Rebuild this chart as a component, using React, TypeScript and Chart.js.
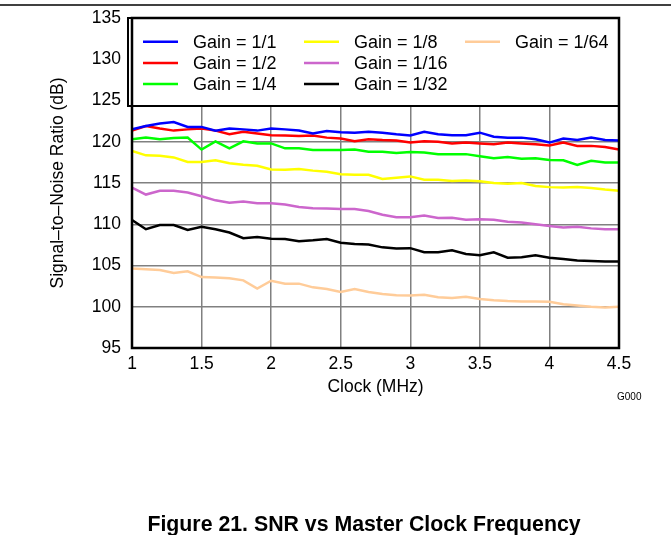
import React, { useEffect, useRef } from "react";
import { Chart, registerables } from "chart.js";

Chart.register(...registerables);

const clockMHz = [
  1.0, 1.1, 1.2, 1.3, 1.4, 1.5, 1.6, 1.7, 1.8, 1.9, 2.0, 2.1, 2.2,
  2.3, 2.4, 2.5, 2.6, 2.7, 2.8, 2.9, 3.0, 3.1, 3.2, 3.3, 3.4,
  3.5, 3.6, 3.7, 3.8, 3.9, 4.0, 4.1, 4.2, 4.3, 4.4, 4.5,
];

const seriesLabels = [
  "Gain = 1/1",
  "Gain = 1/2",
  "Gain = 1/4",
  "Gain = 1/8",
  "Gain = 1/16",
  "Gain = 1/32",
  "Gain = 1/64",
];

const seriesColors = ["#0000ff", "#ff0000", "#00ff00", "#ffff00", "#cc66cc", "#000000", "#ffcc99"];

const gain1 = [
  121.5, 121.9, 122.2, 122.4, 121.8, 121.8, 121.35, 121.6, 121.5, 121.35, 121.6, 121.5, 121.35,
  121.0, 121.3, 121.15, 121.1, 121.2, 121.1, 120.9, 120.75, 121.2, 120.9, 120.8, 120.8,
  121.1, 120.6, 120.5, 120.5, 120.3, 119.9, 120.4, 120.2, 120.5, 120.2, 120.15,
];
const gain2 = [
  121.35, 121.9, 121.6, 121.35, 121.5, 121.6, 121.35, 120.9, 121.2, 121.0, 120.8, 120.75, 120.7,
  120.75, 120.5, 120.4, 120.05, 120.3, 120.2, 120.15, 119.9, 120.05, 120.0, 119.8, 119.9,
  119.8, 119.7, 119.9, 119.8, 119.7, 119.55, 119.9, 119.5, 119.5, 119.35, 119.05,
];
const gain4 = [
  120.3, 120.5, 120.3, 120.45, 120.5, 119.05, 120.05, 119.2, 120.05, 119.8, 119.8, 119.2, 119.2,
  119.0, 119.0, 119.0, 119.05, 118.8, 118.8, 118.65, 118.75, 118.7, 118.5, 118.5, 118.5,
  118.25, 118.0, 118.15, 117.95, 118.0, 117.8, 117.75, 117.2, 117.7, 117.5, 117.5,
];
const gain8 = [
  118.9, 118.35, 118.3, 118.1, 117.55, 117.55, 117.75, 117.4, 117.2, 117.1, 116.65, 116.6, 116.7,
  116.5, 116.35, 116.05, 116.0, 116.0, 115.5, 115.65, 115.8, 115.4, 115.4, 115.25, 115.3,
  115.2, 115.0, 114.9, 115.0, 114.65, 114.5, 114.45, 114.5, 114.4, 114.2, 114.05,
];
const gain16 = [
  114.45, 113.6, 114.05, 114.05, 113.85, 113.4, 112.9, 112.6, 112.75, 112.55, 112.55, 112.4, 112.1,
  111.95, 111.9, 111.85, 111.85, 111.6, 111.15, 110.85, 110.85, 111.05, 110.75, 110.8, 110.55,
  110.6, 110.55, 110.3, 110.2, 110.0, 109.8, 109.6, 109.7, 109.5, 109.4, 109.4,
];
const gain32 = [
  110.5, 109.4, 109.9, 109.9, 109.3, 109.7, 109.4, 109.0, 108.3, 108.45, 108.25, 108.2, 107.95,
  108.05, 108.2, 107.75, 107.6, 107.55, 107.2, 107.05, 107.1, 106.6, 106.6, 106.85, 106.4,
  106.25, 106.6, 105.95, 106.0, 106.25, 105.95, 105.8, 105.6, 105.55, 105.5, 105.5,
];
const gain64 = [
  104.65, 104.55, 104.45, 104.1, 104.3, 103.6, 103.55, 103.45, 103.2, 102.2, 103.15, 102.8, 102.8,
  102.35, 102.15, 101.8, 102.15, 101.8, 101.55, 101.4, 101.35, 101.45, 101.15, 101.05, 101.2,
  100.95, 100.8, 100.7, 100.65, 100.65, 100.6, 100.3, 100.15, 100.0, 99.9, 100.0,
];

const seriesValues = [gain1, gain2, gain4, gain8, gain16, gain32, gain64];

const chartTitle = "Figure 21. SNR vs Master Clock Frequency";
const graphCode = "G000";
const xTitle = "Clock (MHz)";
const yTitle = "Signal\u2013to\u2013Noise Ratio (dB)";

const FONT = "'Liberation Sans', Arial, Helvetica, sans-serif";

const decorPlugin = {
  id: "decor",
  afterDraw(chart: any) {
    const { ctx, chartArea: a } = chart;
    ctx.save();
    // page rule
    ctx.strokeStyle = "#000";
    ctx.lineWidth = 1.5;
    ctx.beginPath();
    ctx.moveTo(0, 5);
    ctx.lineTo(671, 5);
    ctx.stroke();

    // legend box
    const lx = a.left - 4;
    const ly = a.top;
    const lw = a.right - lx;
    const lh = 88;
    ctx.fillStyle = "#fff";
    ctx.fillRect(lx, ly, lw, lh);
    ctx.lineWidth = 2;
    ctx.strokeRect(lx, ly, lw, lh);

    // plot frame
    ctx.lineWidth = 2.5;
    ctx.strokeRect(a.left, a.top, a.right - a.left, a.bottom - a.top);

    // legend items
    const colX = [a.left + 11, a.left + 172, a.left + 333];
    ctx.font = `18px ${FONT}`;
    ctx.textBaseline = "middle";
    ctx.textAlign = "left";
    chart.data.datasets.forEach((d: any, i: number) => {
      const col = Math.floor(i / 3);
      const row = i % 3;
      const x = colX[col];
      const y = a.top + 23.7 + row * 21.2;
      ctx.strokeStyle = d.borderColor;
      ctx.lineWidth = 2.5;
      ctx.beginPath();
      ctx.moveTo(x, y);
      ctx.lineTo(x + 35, y);
      ctx.stroke();
      ctx.fillStyle = "#000";
      ctx.fillText(d.label, x + 50, y + 1);
    });

    // graph code
    ctx.font = `10px ${FONT}`;
    ctx.fillText(graphCode, 617, 397);

    // figure title
    ctx.font = `bold 21.3px ${FONT}`;
    ctx.textAlign = "center";
    ctx.fillText(chartTitle, 364, 525);
    ctx.restore();
  },
};

export default function App() {
  const canvasRef = useRef<HTMLCanvasElement | null>(null);

  useEffect(() => {
    if (!canvasRef.current) return;
    const chart = new Chart(canvasRef.current, {
      type: "line",
      data: {
        datasets: seriesValues.map((vals, i) => ({
          label: seriesLabels[i],
          data: clockMHz.map((x, j) => ({ x, y: vals[j] })),
          borderColor: seriesColors[i],
          backgroundColor: seriesColors[i],
          borderWidth: 2.5,
          pointRadius: 0,
          tension: 0,
          fill: false,
        })),
      },
      options: {
        responsive: false,
        animation: false,
        devicePixelRatio: 1,
        layout: { padding: { left: 47.5, top: 18, right: 52, bottom: 137.5 } },
        plugins: {
          legend: { display: false },
          tooltip: { enabled: false },
        },
        scales: {
          x: {
            type: "linear",
            min: 1,
            max: 4.5,
            afterFit: (s: any) => {
              s.height = 49.5;
              s.paddingLeft = 0;
              s.paddingRight = 0;
            },
            ticks: {
              stepSize: 0.5,
              padding: 6,
              color: "#000",
              font: { family: FONT, size: 17.5 },
              maxRotation: 0,
              autoSkip: false,
              callback: (v: any) => String(Number(v)),
            },
            grid: { color: "#808080", lineWidth: 1.5, drawTicks: false },
            border: { display: false },
            title: {
              display: true,
              text: xTitle,
              color: "#000",
              font: { family: FONT, size: 17.5 },
              padding: 0,
            },
          },
          y: {
            type: "linear",
            min: 95,
            max: 135,
            afterFit: (s: any) => {
              s.width = 84.5;
              s.paddingTop = 0;
              s.paddingBottom = 0;
            },
            ticks: {
              stepSize: 5,
              padding: 11,
              color: "#000",
              font: { family: FONT, size: 17.5 },
            },
            grid: { color: "#808080", lineWidth: 1.5, drawTicks: false },
            border: { display: false },
            title: {
              display: true,
              text: yTitle,
              color: "#000",
              font: { family: FONT, size: 17.5 },
              padding: 0,
            },
          },
        },
      },
      plugins: [decorPlugin],
    });
    return () => chart.destroy();
  }, []);

  return (
    <div style={{ position: "absolute", left: 0, top: 0, width: 671, height: 535 }}>
      <canvas ref={canvasRef} width={671} height={535} style={{ width: 671, height: 535 }} />
    </div>
  );
}
